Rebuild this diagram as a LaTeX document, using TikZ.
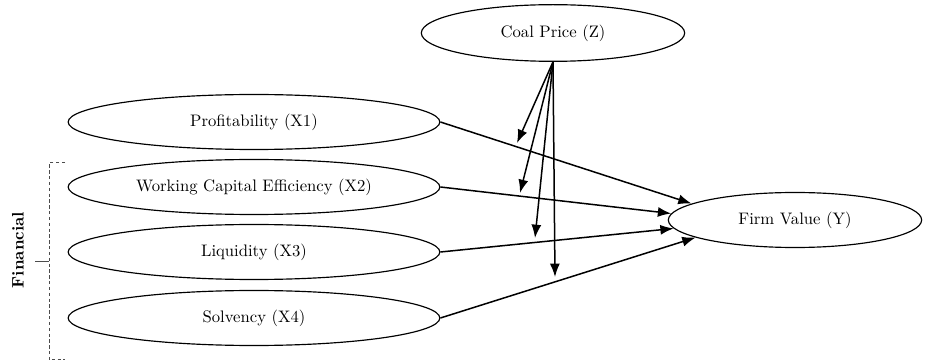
\documentclass[tikz,border=0pt]{standalone}
\usetikzlibrary{shapes.geometric,arrows.meta}
\begin{document}
\begin{tikzpicture}[x=0.6pt,y=-0.6pt,
    var/.style={draw, ellipse, line width=0.7pt, inner sep=0pt, minimum width=223pt, minimum height=33pt},
    link/.style={-{Latex[length=8pt,width=6pt]}, line width=0.9pt}]
        \useasboundingbox (0,0) rectangle (937,362);
        \node[var, minimum width=158pt, minimum height=34pt] at (553,33)(coal){Coal Price (Z)};
        \node[var] at (254,122)(x1){Profitability (X1)};
        \node[var] at (254,187)(x2){Working Capital Efficiency (X2)};
        \node[var] at (254,252)(x3){Liquidity (X3)};
        \node[var] at (254,318)(x4){Solvency (X4)};
        \node[var, minimum width=152pt] at (795,220)(y){Firm Value (Y)};

        \coordinate (m1) at (517,143);
        \coordinate (m2) at (520,193);
        \coordinate (m3) at (535,238);
        \coordinate (m4) at (555,277);

        \path[link]
        (x1.east)edge(y.171)
        (x2.east)edge(y.177)
        (x3.east)edge(y.184)
        (x4.east)edge(y.190)
        (coal.south)edge(m1)
        (coal.south)edge(m2)
        (coal.south)edge(m3)
        (coal.south)edge(m4)
        ;

        % financial group
        \draw[dash pattern=on 2pt off 1.5pt, line width=0.6pt, black!70] (65,163) -- (49,163) -- (49,360) -- (65,360);
        \draw[line width=0.6pt, black!70] (49,262) -- (35,262);
        \node[rotate=90, font=\bfseries] at (18,250)(fin){Financial};
    \end{tikzpicture}
\end{document}
